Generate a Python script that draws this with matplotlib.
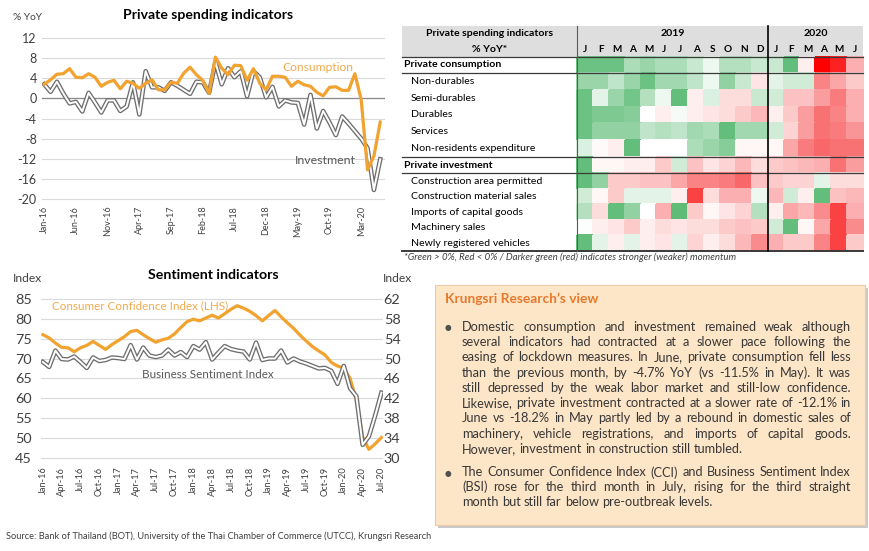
import matplotlib
matplotlib.use('Agg')
import matplotlib.pyplot as plt
import numpy as np
import pandas as pd
from matplotlib.colors import LinearSegmentedColormap
from matplotlib.patches import Rectangle

plt.rcParams['font.family'] = ['Lato', 'DejaVu Sans']
plt.rcParams['axes.unicode_minus'] = False

# ---------------- data ----------------
spend_months = list(pd.date_range('2016-01-01', periods=54, freq='MS').strftime('%b-%y'))
consumption = [2.8, 3.7, 4.8, 4.9, 5.9, 4.2, 4.1, 4.9, 4.2, 2.4,
               3.2, 3.6, 1.9, 3.4, 3.0, 2.0, 3.0, 3.7, 1.7, 1.7,
               3.2, 3.0, 5.0, 6.2, 4.7, 3.6, 1.0, 8.2, 6.0, 4.7,
               6.6, 6.5, 3.6, 5.9, 3.0, 1.7, 4.4, 4.4, 4.2, 2.4,
               3.4, 2.7, 2.4, 1.2, 0.5, 2.2, 2.3, 1.6, 1.6, 4.9,
               -0.3, -14.2, -11.5, -4.7]
investment = [2.8, 1.3, 3.3, 1.0, -1.0, -0.7, -2.6, 1.1, -0.8, -2.8,
              -0.4, -0.4, -2.5, -1.6, 3.2, -3.2, 5.4, 2.2, 2.2, 1.5,
              3.2, 2.5, 1.7, 0.9, 3.3, 3.2, 1.1, 7.2, 2.8, 6.0,
              4.2, 5.4, 0.4, 5.4, 4.2, 0.2, 2.3, -1.6, -0.4, -0.8,
              -0.9, -5.2, 0.7, -6.0, -2.5, -4.8, -7.3, -3.6, -5.0, -6.5,
              -8.0, -9.9, -18.2, -12.1]

senti_months = list(pd.date_range('2016-01-01', periods=55, freq='MS').strftime('%b-%y'))
cci = [76.0, 75.2, 73.9, 72.8, 72.7, 71.7, 72.7, 73.3, 74.3, 73.3,
       72.3, 73.5, 74.5, 75.5, 76.8, 77.1, 76.0, 75.0, 74.1, 74.7,
       75.1, 76.2, 77.8, 79.3, 79.9, 79.5, 80.2, 80.9, 80.2, 81.3,
       82.4, 83.3, 82.7, 81.9, 80.8, 79.5, 80.8, 82.1, 80.5, 79.0,
       77.6, 75.9, 74.4, 73.0, 71.9, 70.9, 69.0, 68.1, 67.6, 65.0,
       59.5, 50.3, 47.1, 48.5, 50.1]
bsi = [49.3, 48.3, 51.6, 49.9, 49.8, 50.4, 49.3, 48.1, 50.2, 49.5,
       49.7, 50.2, 50.1, 49.9, 52.7, 49.8, 52.2, 50.6, 50.3, 50.6,
       51.8, 50.6, 51.3, 50.3, 52.5, 51.8, 53.3, 49.8, 51.2, 52.5,
       51.9, 51.6, 51.4, 49.8, 53.2, 49.7, 50.0, 50.0, 51.6, 49.2,
       50.0, 49.4, 49.0, 48.5, 48.0, 48.1, 47.5, 44.9, 48.5, 44.0,
       42.4, 32.6, 34.3, 38.5, 43.1]

heat_rows = ['Private consumption', 'Non-durables', 'Semi-durables', 'Durables',
             'Services', 'Non-residents expenditure', 'Private investment',
             'Construction area permitted', 'Construction material sales',
             'Imports of capital goods', 'Machinery sales', 'Newly registered vehicles']
heat_bold = [True, False, False, False, False, False, True, False, False, False, False, False]
heat_months = list('JFMAMJJASOND') + list('JFMAMJ')
heat_years = ['2019', '2020']
# colour score: >0 green (stronger), <0 red (weaker)
heat = np.array([
    [0.8, 0.8, 0.8, 0.45, 0.55, 0.45, 0.45, 0.3, 0.1, 0.4, 0.4, 0.3, 0.3, 0.85, -0.1, -1.0, -0.95, -0.45],
    [0.55, 0.55, 0.35, 0.55, 0.8, 0.5, 0.5, 0.35, 0.1, 0.6, 0.3, -0.15, 0.15, 0.25, 0.25, -0.7, -0.5, -0.3],
    [0.8, 0.15, 0.55, 0.75, 0.4, 0.1, 0.85, -0.1, 0.2, -0.2, -0.2, 0.3, 0.25, -0.35, -0.35, -0.55, -0.75, -0.45],
    [0.8, 0.7, 0.7, 0.65, 0.0, -0.1, 0.05, -0.1, -0.15, -0.2, -0.3, -0.4, -0.1, -0.3, -0.55, -0.8, -0.7, -0.45],
    [0.8, 0.6, 0.6, 0.6, 0.35, 0.4, 0.35, 0.5, 0.45, 0.85, 0.5, 0.5, 0.25, -0.25, -0.55, -0.8, -0.75, -0.6],
    [0.2, -0.03, -0.1, 0.85, 0.0, 0.0, 0.0, 0.45, 0.55, 0.65, -0.05, -0.05, -0.05, -0.5, -0.75, -0.85, -0.8, -0.8],
    [0.85, -0.05, -0.05, -0.1, -0.1, -0.3, 0.25, -0.35, -0.15, -0.25, -0.4, -0.2, -0.3, -0.35, -0.4, -0.45, -0.8, -0.55],
    [0.85, 0.6, -0.3, -0.3, -0.35, -0.35, -0.5, -0.7, -0.7, -0.75, -0.85, -0.35, -0.3, -0.25, -0.25, 0.15, -0.2, -0.2],
    [0.25, -0.05, -0.3, 0.15, 0.15, 0.15, -0.1, -0.9, -0.2, -0.45, -0.45, 0.1, -0.4, 0.25, -0.1, 0.85, -0.35, -0.4],
    [0.4, -0.2, 0.85, 0.6, 0.0, -0.45, 0.9, -0.3, -0.05, -0.15, -0.25, 0.4, -0.1, -0.5, -0.4, -0.65, -0.9, -0.45],
    [0.02, -0.1, -0.15, -0.3, -0.1, -0.2, -0.15, -0.2, -0.2, -0.3, -0.35, -0.3, 0.25, 0.85, -0.05, -0.5, -0.9, -0.65],
    [0.85, 0.15, -0.1, 0.15, -0.1, -0.15, 0.15, -0.25, -0.1, -0.2, -0.4, -0.65, -0.45, -0.3, -0.3, -0.7, -0.9, -0.3],
])

box_title = 'Krungsri Research\u2019s view'
bullet1 = ['Domestic consumption and investment remained weak although',
           'several indicators had contracted at a slower pace following the',
           'easing of lockdown measures. In June, private consumption fell less',
           'than the previous month, by -4.7% YoY (vs -11.5% in May). It was',
           'still depressed by the weak labor market and still-low confidence.',
           'Likewise, private investment contracted at a slower rate of -12.1% in',
           'June vs -18.2% in May partly led by a rebound in domestic sales of',
           'machinery, vehicle registrations, and imports of capital goods.',
           'However, investment in construction still tumbled.']
bullet2 = ['The Consumer Confidence Index (CCI) and Business Sentiment Index',
           '(BSI) rose for the third month in July, rising for the third straight',
           'month but still far below pre-outbreak levels.']
source = ('Source: Bank of Thailand (BOT), University of the Thai Chamber of Commerce (UTCC), '
          'Krungsri Research')
note = '*Green > 0%, Red < 0% / Darker green (red) indicates stronger (weaker) momentum'

# ---------------- figure ----------------
W, H = 870, 551
fig = plt.figure(figsize=(W / 100, H / 100), dpi=100)

ORANGE = '#F2A22E'
ORANGE_TXT = '#F0AA4E'
GRAYLINE = '#6E6E6E'
TXT = '#404040'
GRID = '#DADADA'


def add_px_axes(l, t, r, b):
    return fig.add_axes([l / W, 1 - b / H, (r - l) / W, (b - t) / H])


def style_axes(ax):
    for s in ax.spines.values():
        s.set_visible(False)
    ax.tick_params(length=0, colors=TXT)
    ax.set_facecolor('none')


def double_line(ax, x, y):
    ax.plot(x, y, color=GRAYLINE, lw=3.3, solid_joinstyle='round', zorder=3)
    ax.plot(x, y, color='white', lw=1.4, solid_joinstyle='round', zorder=4)


# overlay in pixel coordinates for table, texts, box
axp = fig.add_axes([0, 0, 1, 1], zorder=10)
axp.set_xlim(0, W)
axp.set_ylim(H, 0)
axp.axis('off')
axp.patch.set_visible(False)

fig.canvas.draw()
rend = fig.canvas.get_renderer()


def text_w(s, size=10, **kw):
    t = axp.text(0, 0, s, fontsize=size, **kw)
    w = t.get_window_extent(renderer=rend).width
    t.remove()
    return w


def fit(s, target, **kw):
    return 10 * target / text_w(s, 10, **kw)


# ---- top-left: private spending indicators ----
ax1 = add_px_axes(41.7, 36, 385.3, 201)
style_axes(ax1)
x1 = np.arange(len(consumption))
ax1.set_xlim(-0.4, 53.8)
ax1.set_ylim(-20.4, 12.4)
yt = list(range(-20, 13, 4))
ax1.set_yticks(yt)
ax1.set_yticklabels([str(v) for v in yt], fontsize=9)
ax1.set_xticks(x1[::5])
ax1.set_xticklabels(spend_months[::5], rotation=90, fontsize=6.5)
ax1.tick_params(axis='y', pad=3.6)
ax1.tick_params(axis='x', pad=3.5)
ax1.grid(axis='y', color=GRID, lw=0.8)
ax1.axhline(0, color='#8A8A8A', lw=0.9, zorder=2)
double_line(ax1, x1, investment)
ax1.plot(x1, consumption, color=ORANGE, lw=2.3, zorder=5)

axp.text(208, 15, 'Private spending indicators', ha='center', va='center', weight='bold',
         fontsize=fit('Private spending indicators', 170, weight='bold'), color='black')
axp.text(13, 17, '% YoY', va='center', fontsize=fit('% YoY', 29), color=TXT)
axp.text(282, 67.5, 'Consumption', va='center', fontsize=fit('Consumption', 71), color=ORANGE_TXT)
axp.text(295, 161, 'Investment', va='center', fontsize=fit('Investment', 61), color='#5A5A5A')

# ---- bottom-left: sentiment indicators ----
ax2 = add_px_axes(41, 297, 383, 459.7)
style_axes(ax2)
x2 = np.arange(len(cci))
ax2.set_xlim(-0.3, 54.25)
ax2.set_ylim(44.5, 85.5)
ax2.set_yticks(range(45, 86, 5))
ax2.set_yticklabels([str(v) for v in range(45, 86, 5)], fontsize=10.4)
ax2.set_xticks(x2[::3])
ax2.set_xticklabels(senti_months[::3], rotation=90, fontsize=6.7)
ax2.tick_params(axis='y', pad=6.5)
ax2.tick_params(axis='x', pad=5)
ax2.grid(axis='y', color=GRID, lw=0.8)
ax2.plot(x2, cci, color=ORANGE, lw=2.3, zorder=5)

ax2r = ax2.twinx()
style_axes(ax2r)
ax2r.set_ylim(29.6, 62.4)
ax2r.set_yticks(range(30, 63, 4))
ax2r.set_yticklabels([str(v) for v in range(30, 63, 4)], fontsize=10.4)
ax2r.tick_params(axis='y', pad=0.5)
double_line(ax2r, x2, bsi)

axp.text(213, 275, 'Sentiment indicators', ha='center', va='center', weight='bold',
         fontsize=fit('Sentiment indicators', 130, weight='bold'), color='black')
axp.text(13, 278.5, 'Index', va='center', fontsize=fit('Index', 29), color=TXT)
axp.text(383, 278.5, 'Index', va='center', fontsize=fit('Index', 29), color=TXT)
axp.text(52, 305.5, 'Consumer Confidence Index (LHS)', va='center', color=ORANGE_TXT,
         fontsize=fit('Consumer Confidence Index (LHS)', 175))
axp.text(142, 375, 'Business Sentiment Index', va='center', color='#5A5A5A',
         fontsize=fit('Business Sentiment Index', 131))
axp.text(6, 536.5, source, va='center', color=TXT, fontsize=fit(source, 430))

# ---- top-right: heatmap table ----
cmap = LinearSegmentedColormap.from_list('rg', [
    (0.0, '#FF0000'), (0.075, '#F8696B'), (0.5, '#FFFFFF'), (0.925, '#63BE7B'), (1.0, '#58B970')])
TL, TR, TT = 402, 863, 26
col_edges = np.linspace(577, 863, len(heat_months) + 1)
row_edges = np.array([57, 72.7, 89.6, 106.5, 123.4, 140.3, 157.3, 173.3,
                      188.8, 204.3, 219.8, 235.3, 250.7])
axp.add_patch(Rectangle((TL, TT), TR - TL, row_edges[0] - TT, facecolor='#DEDEDE',
                        edgecolor='none', zorder=1))
axp.pcolormesh(col_edges, row_edges, heat, cmap=cmap, vmin=-1, vmax=1,
               shading='flat', edgecolors='face', linewidth=0.3, zorder=2)

lab_size = fit('Construction area permitted', 131)
hdr_size = fit('Private spending indicators', 127, weight='bold')
axp.text(490, 33.5, 'Private spending indicators', ha='center', va='center',
         weight='bold', fontsize=hdr_size, color='black')
axp.text(490, 49.3, '% YoY*', ha='center', va='center', weight='bold', fontsize=hdr_size, color='black')
axp.text((col_edges[0] + col_edges[12]) / 2, 33.3, heat_years[0], ha='center', va='center',
         weight='bold', fontsize=hdr_size, color='black')
axp.text((col_edges[12] + col_edges[-1]) / 2, 33.3, heat_years[1], ha='center', va='center',
         weight='bold', fontsize=hdr_size, color='black')
col_mid = (col_edges[:-1] + col_edges[1:]) / 2
for cx, m in zip(col_mid, heat_months):
    axp.text(cx, 49.3, m, ha='center', va='center', weight='bold', fontsize=hdr_size * 0.95, color='black')
row_mid = (row_edges[:-1] + row_edges[1:]) / 2
for ry, name, b in zip(row_mid, heat_rows, heat_bold):
    axp.text(404.5 if b else 410.7, ry, name, va='center', fontsize=lab_size,
             weight='bold' if b else 'normal', color='black')

for yy, lw in [(row_edges[0], 0.9), (row_edges[1], 0.9), (row_edges[6], 0.9),
               (row_edges[7], 0.9), (row_edges[-1], 1.4)]:
    axp.plot([TL, TR], [yy, yy], color='#3A3A3A', lw=lw, zorder=4)
axp.plot([col_edges[0], col_edges[0]], [TT, row_edges[-1]], color='#5A5A5A', lw=0.8, zorder=4)
axp.plot([col_edges[12], col_edges[12]], [TT, row_edges[-1]], color='black', lw=1.2, zorder=4)
axp.text(404, 257.5, note, va='center', style='italic', color=TXT, fontsize=fit(note, 333, style='italic'))

# ---- bottom-right: text box ----
BX0, BY0, BX1, BY1 = 435, 285, 865, 525
axp.add_patch(Rectangle((BX0 + 3, BY0 + 3), BX1 - BX0, BY1 - BY0, facecolor='#C9C9C9',
                        edgecolor='none', zorder=1))
axp.add_patch(Rectangle((BX0, BY0), BX1 - BX0, BY1 - BY0, facecolor='#FDE5C7',
                        edgecolor='#EACDA6', lw=0.8, zorder=2))
axp.text(445, 299, box_title, va='center', weight='bold', color='#E8792B',
         fontsize=fit(box_title, 154, weight='bold'))

body_size = fit(bullet1[-1], 283)
TX0, TX1 = 462, 851
space_w = text_w('a a', body_size) - text_w('aa', body_size)


def put_paragraph(lines, y0, step=15.3):
    axp.text(448, y0 + 1, '\u25CF', ha='center', va='center', fontsize=5.5,
             color='#505050', family='DejaVu Sans')
    for i, line in enumerate(lines):
        words = line.split(' ')
        ws = [text_w(w, body_size) for w in words]
        last = i == len(lines) - 1
        gap = space_w if last else (TX1 - TX0 - sum(ws)) / (len(words) - 1)
        x = TX0
        for w, ww in zip(words, ws):
            axp.text(x, y0 + i * step, w, va='center', fontsize=body_size, color='#383838')
            x += ww + gap


put_paragraph(bullet1, 326.7)
put_paragraph(bullet2, 472.5, step=14.6)

fig.savefig('out.png', dpi=100)
